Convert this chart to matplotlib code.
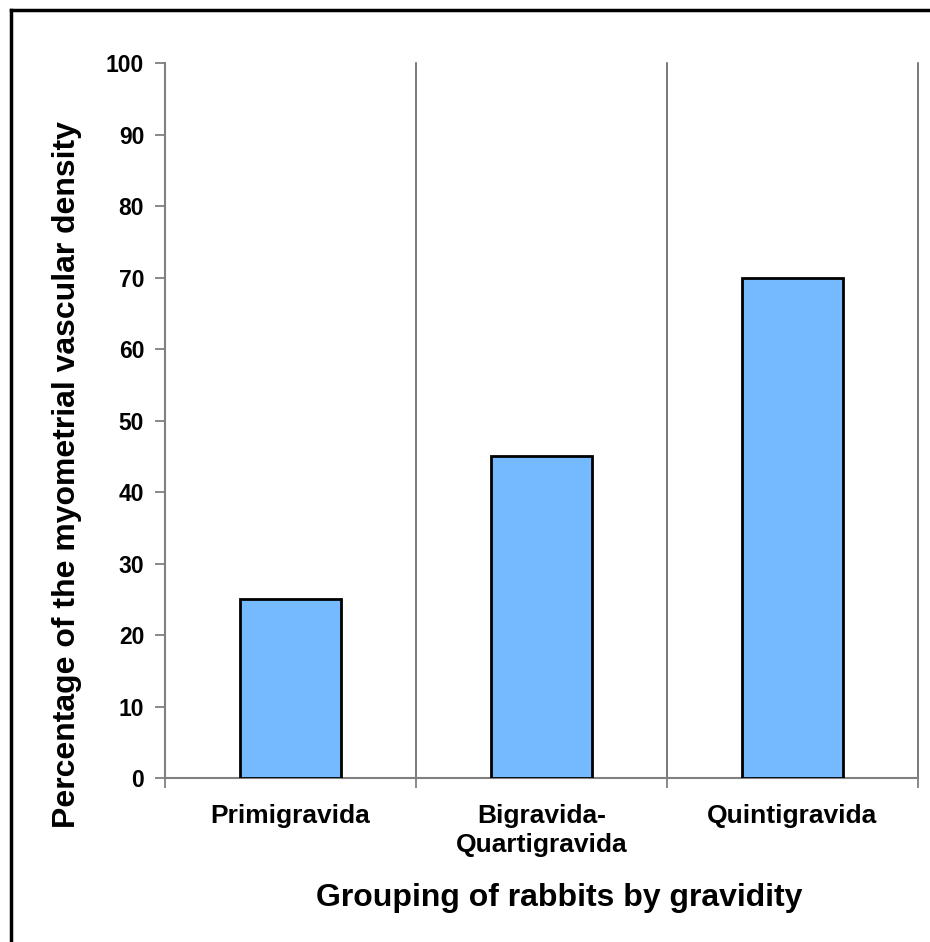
" bar chart: myometrial vascular density by gravidity "
import matplotlib.pyplot as plt
import numpy as np
from matplotlib.lines import Line2D

plt.rcParams.update({'font.family': 'Liberation Sans', 'font.weight': 'bold'})

groups = ["Primigravida", "Bigravida-\nQuartigravida", "Quintigravida"]
density = [25, 45, 70]
yticks = list(range(0, 101, 10))

GRAY = "#808080"


def plot_density():
    fig = plt.figure(figsize=(9.3, 9.42), dpi=100)
    ax = fig.add_axes([0.1774, 0.1741, 0.8097, 0.759])

    x = np.arange(len(groups))
    ax.bar(x, density, width=0.4, color="#75B9FF", edgecolor="black",
           linewidth=2, zorder=3)

    ax.set_xlim(-0.5, len(groups) - 0.5)
    ax.set_ylim(0, 100)
    ax.set_yticks(yticks)
    ax.set_yticklabels([str(t) for t in yticks], fontsize=16.5, fontweight="bold")

    # category labels at centres, tick marks at boundaries
    ax.set_xticks(x)
    ax.set_xticklabels(groups, fontsize=19, fontweight="bold", linespacing=1.25)
    ax.tick_params(axis="x", length=0, pad=19)
    bounds = np.arange(len(groups) + 1) - 0.5
    ax.set_xticks(bounds, minor=True)
    ax.tick_params(axis="x", which="minor", length=7, color=GRAY, width=1.3)
    for b in bounds[1:]:
        ax.axvline(b, color="#555555", linewidth=1.1, clip_on=False, zorder=1)
    ax.tick_params(axis="y", length=7, color=GRAY, width=1.3, pad=8)

    for s in ["top", "right"]:
        ax.spines[s].set_visible(False)
    for s in ["left", "bottom"]:
        ax.spines[s].set_color(GRAY)
        ax.spines[s].set_linewidth(1.5)

    ax.set_ylabel("Percentage of the myometrial vascular density",
                  fontsize=23, fontweight="bold")
    ax.yaxis.set_label_coords(-0.110, 0.424)
    ax.set_xlabel("Grouping of rabbits by gravidity",
                  fontsize=23, fontweight="bold")
    ax.xaxis.set_label_coords(0.524, -0.147)

    # frame lines at left and top of the picture
    fig.add_artist(Line2D([0.0118, 0.0118], [0, 0.9894], transform=fig.transFigure,
                          color="black", linewidth=2.5))
    fig.add_artist(Line2D([0.0118, 1.0], [0.9894, 0.9894], transform=fig.transFigure,
                          color="black", linewidth=2.5))
    return fig, ax


if __name__ == "__main__":
    fig, ax = plot_density()
    fig.savefig("out.png", dpi=100)
